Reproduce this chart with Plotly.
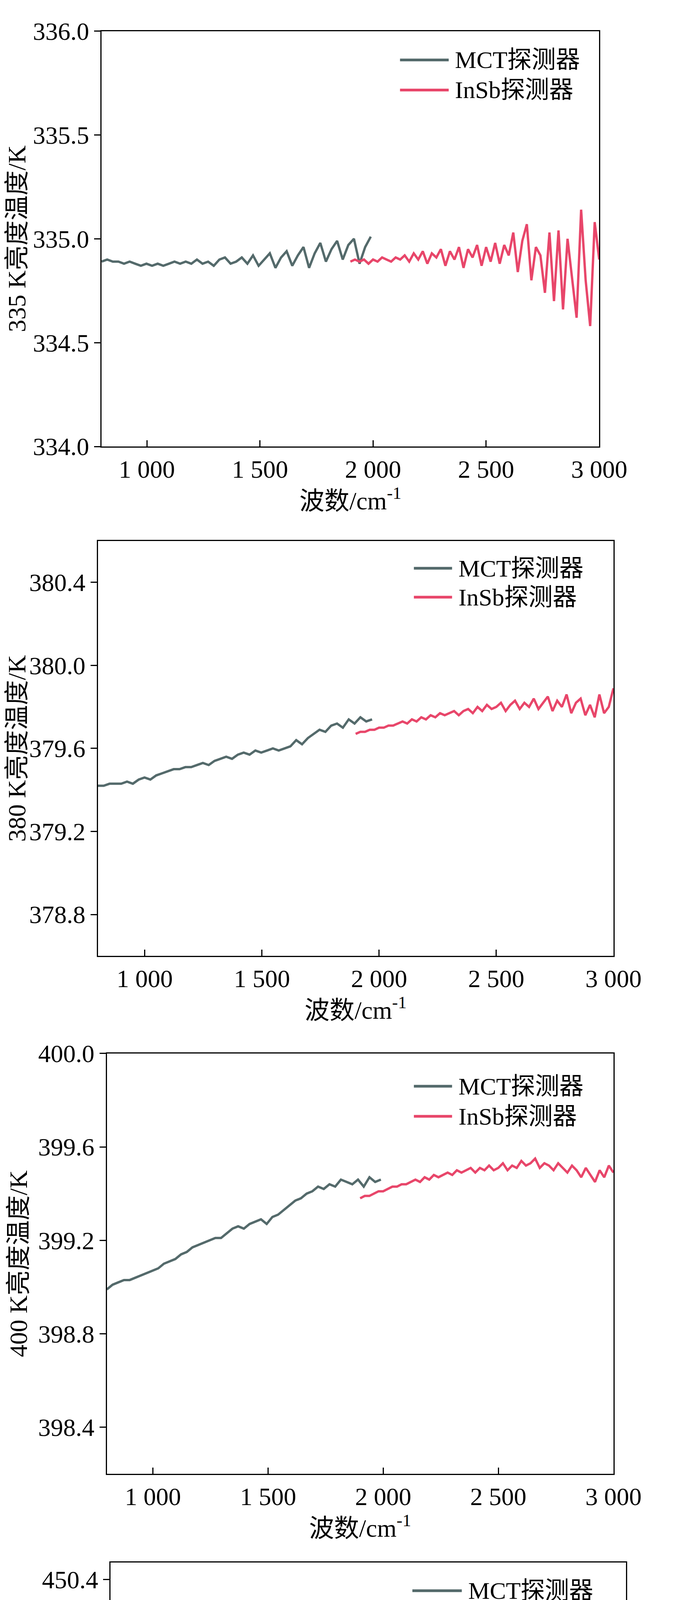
import numpy as np
import plotly.graph_objects as go

W, H = 1749, 5285
MCT_COLOR = "#546a6b"
INSB_COLOR = "#e8466a"

x_ticks = [1000, 1500, 2000, 2500, 3000]
x_ticktext = ["1 000", "1 500", "2 000", "2 500", "3 000"]

# panel 1 (335 K)
p1_mct_range = (800, 1990)
p1_mct = [334.89,334.90,334.89,334.89,334.88,334.89,334.88,334.87,334.88,334.87,334.88,334.87,334.88,334.89,334.88,334.89,334.88,334.90,334.88,334.89,334.87,334.90,334.91,334.88,334.89,334.91,334.88,334.92,334.87,334.90,334.93,334.86,334.91,334.94,334.87,334.92,334.96,334.86,334.93,334.98,334.89,334.95,334.99,334.90,334.97,335.00,334.88,334.96,335.01]
p1_insb_range = (1900, 3000)
p1_insb = [334.89,334.90,334.89,334.90,334.88,334.90,334.89,334.91,334.90,334.89,334.91,334.90,334.92,334.89,334.93,334.90,334.94,334.88,334.93,334.91,334.95,334.87,334.94,334.90,334.96,334.86,334.95,334.91,334.97,334.87,334.96,334.89,334.98,334.88,334.97,334.92,335.03,334.84,334.99,335.07,334.80,334.96,334.92,334.74,335.03,334.70,335.04,334.66,335.00,334.82,334.62,335.14,334.80,334.58,335.08,334.90]

# panel 2 (380 K)
p2_mct_range = (800, 1970)
p2_mct = [379.42,379.42,379.43,379.43,379.43,379.44,379.43,379.45,379.46,379.45,379.47,379.48,379.49,379.50,379.50,379.51,379.51,379.52,379.53,379.52,379.54,379.55,379.56,379.55,379.57,379.58,379.57,379.59,379.58,379.59,379.60,379.59,379.60,379.61,379.64,379.62,379.65,379.67,379.69,379.68,379.71,379.72,379.70,379.74,379.72,379.75,379.73,379.74]
p2_insb_range = (1900, 3000)
p2_insb = [379.67,379.68,379.68,379.69,379.69,379.70,379.70,379.71,379.71,379.72,379.73,379.72,379.74,379.73,379.75,379.74,379.76,379.75,379.77,379.76,379.77,379.78,379.76,379.78,379.79,379.77,379.80,379.78,379.81,379.79,379.80,379.82,379.78,379.81,379.83,379.79,379.82,379.80,379.84,379.79,379.82,379.85,379.78,379.83,379.80,379.86,379.77,379.82,379.84,379.76,379.81,379.75,379.86,379.77,379.80,379.89]

# panel 3 (400 K)
p3_mct_range = (800, 1990)
p3_mct = [398.99,399.01,399.02,399.03,399.03,399.04,399.05,399.06,399.07,399.08,399.10,399.11,399.12,399.14,399.15,399.17,399.18,399.19,399.20,399.21,399.21,399.23,399.25,399.26,399.25,399.27,399.28,399.29,399.27,399.30,399.31,399.33,399.35,399.37,399.38,399.40,399.41,399.43,399.42,399.44,399.43,399.46,399.45,399.44,399.46,399.43,399.47,399.45,399.46]
p3_insb_range = (1900, 3000)
p3_insb = [399.38,399.39,399.39,399.40,399.41,399.41,399.42,399.43,399.43,399.44,399.44,399.45,399.46,399.45,399.47,399.46,399.48,399.47,399.48,399.49,399.48,399.50,399.49,399.50,399.51,399.49,399.51,399.50,399.52,399.50,399.51,399.53,399.50,399.52,399.51,399.54,399.52,399.53,399.55,399.51,399.53,399.52,399.50,399.53,399.51,399.49,399.52,399.50,399.47,399.51,399.48,399.45,399.50,399.47,399.52,399.49]

# panel 4 (450 K)
p4_mct_range = (800, 1890)
p4_mct = [448.90,448.93,448.95,448.97,448.98,448.99,449.00,449.01,449.03,449.05,449.06,449.09,449.12,449.15,449.16,449.19,449.22,449.22,449.24,449.26,449.27,449.30,449.33,449.33,449.32,449.35,449.38,449.39,449.38,449.38,449.37,449.47,449.50,449.53,449.52,449.55]
p4_insb_range = (1890, 3000)
p4_insb = [449.56,449.58,449.57,449.60,449.58,449.61,449.59,449.62,449.60,449.63,449.59,449.62,449.61,449.64,449.60,449.63,449.59,449.62,449.64,449.60,449.63,449.58,449.65,449.60,449.62,449.57,449.64,449.59,449.61,449.56,449.63,449.58,449.60,449.52,449.61,449.57,449.59,449.50,449.60,449.55,449.63,449.52,449.58,449.54,449.62,449.50,449.56,449.53,449.67,449.45,449.52,449.48,449.66,449.54,449.46,449.52]

series_names = ["MCT探测器", "InSb探测器"]

panels = [
    dict(mct=p1_mct, mr=p1_mct_range, insb=p1_insb, ir=p1_insb_range, yr=[334.0, 336.0],
         yt=[334.0, 334.5, 335.0, 335.5, 336.0], ytitle="335 K亮度温度/K",
         box=(263, 1592, 37, 1115), leg=(1060, 1190, 112, 190)),
    dict(mct=p2_mct, mr=p2_mct_range, insb=p2_insb, ir=p2_insb_range, yr=[378.6, 380.6],
         yt=[378.8, 379.2, 379.6, 380.0, 380.4], ytitle="380 K亮度温度/K",
         box=(253, 1630, 1360, 2437), leg=(1097, 1199, 1431, 1506)),
    dict(mct=p3_mct, mr=p3_mct_range, insb=p3_insb, ir=p3_insb_range, yr=[398.2, 400.0],
         yt=[398.4, 398.8, 399.2, 399.6, 400.0], ytitle="400 K亮度温度/K",
         box=(277, 1630, 2690, 3781), leg=(1097, 1199, 2775, 2853)),
    dict(mct=p4_mct, mr=p4_mct_range, insb=p4_insb, ir=p4_insb_range, yr=[448.0, 450.5],
         yt=[448.0, 448.4, 448.8, 449.2, 449.6, 450.0, 450.4], ytitle="450 K亮度温度/K",
         box=(287, 1663, 4011, 5121), leg=(1093, 1225, 4084, 4160)),
]

FONT = "Liberation Serif, Noto Sans CJK SC"
fig = go.Figure()
layout = dict(width=W, height=H, margin=dict(l=0, r=0, t=0, b=0),
              paper_bgcolor="white", plot_bgcolor="white", showlegend=False,
              font=dict(family=FONT, color="black", size=60))
shapes, annots = [], []

for i, p in enumerate(panels, start=1):
    sfx = "" if i == 1 else str(i)
    xa, ya = "x" + sfx, "y" + sfx
    xm = np.linspace(p["mr"][0], p["mr"][1], len(p["mct"]))
    xi = np.linspace(p["ir"][0], p["ir"][1], len(p["insb"]))
    fig.add_trace(go.Scatter(x=xm, y=p["mct"], mode="lines", name=series_names[0],
                             line=dict(color=MCT_COLOR, width=6), xaxis=xa, yaxis=ya))
    fig.add_trace(go.Scatter(x=xi, y=p["insb"], mode="lines", name=series_names[1],
                             line=dict(color=INSB_COLOR, width=6), xaxis=xa, yaxis=ya))
    x0, x1, y0, y1 = p["box"]
    axcommon = dict(showline=True, linecolor="black", linewidth=3, mirror=True,
                    showgrid=False, zeroline=False, ticklen=16, tickwidth=3, tickcolor="black",
                    tickfont=dict(family=FONT, size=64, color="black"))
    layout["xaxis" + sfx] = dict(axcommon, domain=[x0 / W, x1 / W], anchor=ya, range=[800, 3000],
                                 tickvals=x_ticks, ticktext=x_ticktext, ticks="inside",
                                 title=dict(text="波数/cm<sup>-1</sup>", font=dict(family=FONT, size=64), standoff=8))
    layout["yaxis" + sfx] = dict(axcommon, domain=[1 - y1 / H, 1 - y0 / H], anchor=xa, range=p["yr"],
                                 tickvals=p["yt"], tickformat=".1f", ticks="outside",
                                 title=dict(text=p["ytitle"], font=dict(family=FONT, size=64), standoff=8))
    lx0, lx1, ly0, ly1 = p["leg"]
    for ly, col, nm in [(ly0, MCT_COLOR, series_names[0]), (ly1, INSB_COLOR, series_names[1])]:
        shapes.append(dict(type="line", xref="paper", yref="paper", x0=lx0 / W, x1=lx1 / W,
                           y0=1 - ly / H, y1=1 - ly / H, line=dict(color=col, width=7)))
        annots.append(dict(xref="paper", yref="paper", x=(lx1 + 15) / W, y=1 - ly / H,
                           xanchor="left", yanchor="middle", showarrow=False, text=nm,
                           font=dict(family=FONT, size=62, color="black")))

layout["shapes"] = shapes
layout["annotations"] = annots
fig.update_layout(**layout)
fig.write_html("out.html")
